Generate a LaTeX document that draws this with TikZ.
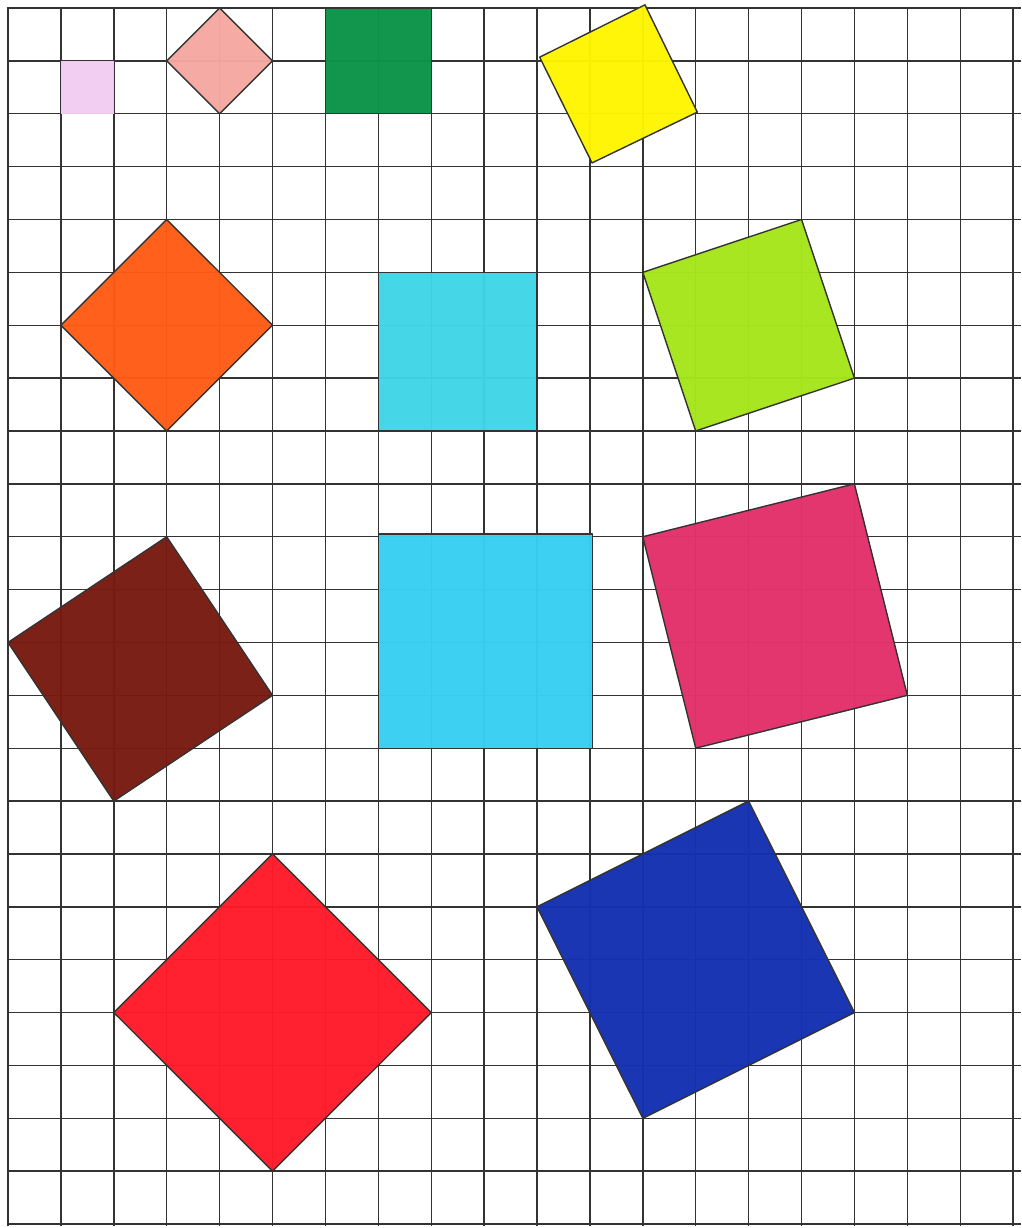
\documentclass[tikz,border=0pt]{standalone}
\begin{document}
\begin{tikzpicture}[x=52.9pt,y=-52.87pt,
  gridline/.style={draw=black!80,line width=1.4pt},
  sq/.style={draw=black!80,line width=1.4pt,line join=round,fill opacity=0.97}]
\definecolor{clav}{HTML}{F3CDF3}
\definecolor{csalmon}{HTML}{F5A8A2}
\definecolor{cgreen}{HTML}{0B9348}
\definecolor{cyellow}{HTML}{FFF500}
\definecolor{corange}{HTML}{FF5B14}
\definecolor{ccyanA}{HTML}{3FD6E8}
\definecolor{clime}{HTML}{A6E61A}
\definecolor{cbrown}{HTML}{781A10}
\definecolor{ccyanB}{HTML}{38CFF2}
\definecolor{cpink}{HTML}{E3306B}
\definecolor{cred}{HTML}{FF1A2A}
\definecolor{cblue}{HTML}{1430B0}
\useasboundingbox[fill=white] (-0.1512,-0.1513) rectangle (19.149,23.075);
% grid
\foreach \i in {0,...,19} \draw[gridline] (\i,-0.02) -- (\i,23.03);
\foreach \j in {0,...,23} \draw[gridline] (-0.02,\j) -- (19.149,\j);
% squares
\path[sq,fill=clav,draw=none] (1,1) rectangle (2,2);
\path[sq,fill=csalmon] (4,0) -- (5,1) -- (4,2) -- (3,1) -- cycle;
\path[sq,fill=cgreen] (6,0) rectangle (8,2);
\path[sq,fill=cyellow] (10.05,0.93) -- (12.04,-0.06) -- (13.03,1.97) -- (11.04,2.93) -- cycle;
\path[sq,fill=corange] (3,4) -- (5,6) -- (3,8) -- (1,6) -- cycle;
\path[sq,fill=ccyanA] (7,5) rectangle (10,8);
\path[sq,fill=clime] (12,5) -- (15,4) -- (16,7) -- (13,8) -- cycle;
\path[sq,fill=cbrown] (0,12) -- (3,10) -- (5,13) -- (2,15) -- cycle;
\path[sq,fill=ccyanB] (7,9.95) rectangle (11.05,14);
\path[sq,fill=cpink] (12,10) -- (16,9) -- (17,13) -- (13,14) -- cycle;
\path[sq,fill=cred] (5,16) -- (8,19) -- (5,22) -- (2,19) -- cycle;
\path[sq,fill=cblue] (10,17) -- (14,15) -- (16,19) -- (12,21) -- cycle;
\end{tikzpicture}
\end{document}
